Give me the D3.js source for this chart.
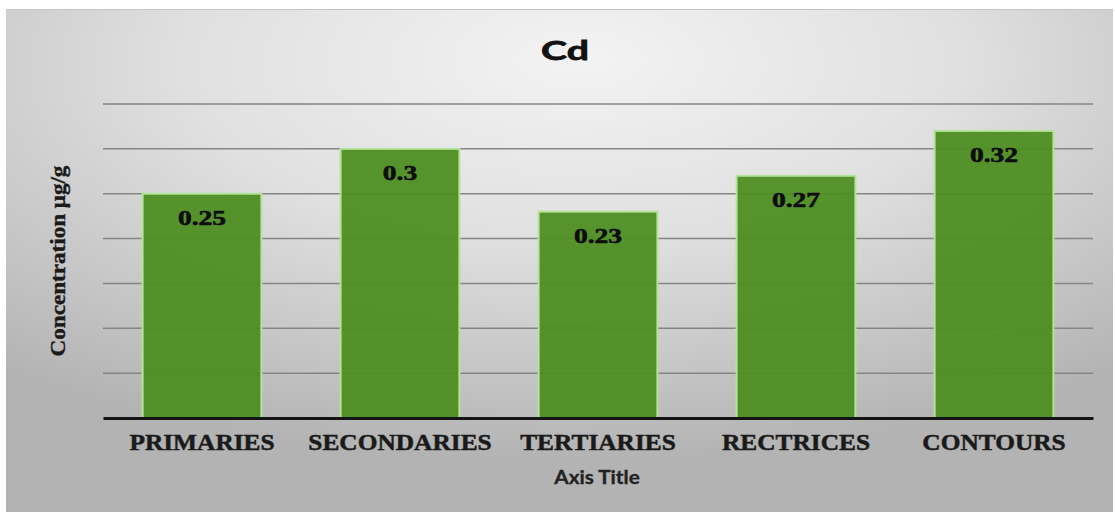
<!DOCTYPE html>
<html>
<head>
<meta charset="utf-8">
<script src="https://cdn.jsdelivr.net/npm/d3@7"></script>
<style>
  html, body { margin: 0; padding: 0; background: #ffffff; }
  svg { display: block; }
</style>
</head>
<body>
<svg id="chart" width="1115" height="512"></svg>
<script>
// Cadmium concentration by feather type
const categories = ["PRIMARIES", "SECONDARIES", "TERTIARIES", "RECTRICES", "CONTOURS"];
const values = [0.25, 0.3, 0.23, 0.27, 0.32];
const gridTicks = [0, 0.05, 0.1, 0.15, 0.2, 0.25, 0.3, 0.35];
const titleText = "Cd";
const xTitle = "Axis Title";
const yTitle = "Concentration \u03bcg/g";

const svg = d3.select("#chart");

// chart area background
const defs = svg.append("defs");
const grad = defs.append("radialGradient")
  .attr("id", "bg").attr("cx", "50%").attr("cy", "12%").attr("r", "78%")
  .attr("fx", "52%").attr("fy", "10%");
grad.append("stop").attr("offset", "0%").attr("stop-color", "#f3f3f3");
grad.append("stop").attr("offset", "45%").attr("stop-color", "#e0e0e0");
grad.append("stop").attr("offset", "100%").attr("stop-color", "#b3b3b3");

svg.append("rect").attr("x", 6).attr("y", 9).attr("width", 1107).attr("height", 503)
  .attr("fill", "url(#bg)");
svg.append("line").attr("x1", 6).attr("x2", 1113).attr("y1", 9.5).attr("y2", 9.5)
  .attr("stroke", "#c4c4c4").attr("stroke-width", 1);

const plot = { left: 103, right: 1093, top: 104, bottom: 418 };

const x = d3.scaleBand().domain(categories)
  .range([plot.left, plot.right]).paddingInner(0.4).paddingOuter(0.2);
const y = d3.scaleLinear().domain([0, 0.35]).range([plot.bottom, plot.top]);

// horizontal text stretch helper (keeps text as text)
function stretch(sel, factor) {
  sel.each(function () {
    const len = this.getComputedTextLength();
    d3.select(this).attr("textLength", len * factor).attr("lengthAdjust", "spacingAndGlyphs");
  });
}

// gridlines
svg.append("g").selectAll("line").data(gridTicks.slice(1)).join("line")
  .attr("x1", plot.left).attr("x2", plot.right)
  .attr("y1", d => y(d)).attr("y2", d => y(d))
  .attr("stroke", "#858585").attr("stroke-width", 1.5);

// bars
svg.append("g").selectAll("rect").data(values).join("rect")
  .attr("x", (d, i) => x(categories[i]))
  .attr("y", d => y(d))
  .attr("width", x.bandwidth())
  .attr("height", d => y(0) - y(d))
  .attr("fill", "#4d8d20").attr("fill-opacity", 0.94)
  .attr("stroke", "#b5e39a").attr("stroke-width", 2);

// baseline axis
const xAxis = d3.axisBottom(x).tickSize(0).tickPadding(24);
const gx = svg.append("g").attr("transform", `translate(0,${plot.bottom})`).call(xAxis);
gx.select(".domain").attr("stroke", "#141414").attr("stroke-width", 3);
gx.selectAll("text")
  .attr("font-family", "'Liberation Serif', 'Times New Roman', serif")
  .attr("font-weight", "bold").attr("font-size", 23.5).attr("fill", "#1a1a1a")
  .attr("stroke", "#1a1a1a").attr("stroke-width", 0.5)
  .attr("dy", "0.35em")
  .call(stretch, 1.08);

// value labels
svg.append("g").selectAll("text").data(values).join("text")
  .attr("x", (d, i) => x(categories[i]) + x.bandwidth() / 2)
  .attr("y", d => y(d) + 31)
  .attr("text-anchor", "middle")
  .attr("font-family", "'Liberation Serif', 'Times New Roman', serif")
  .attr("font-weight", "bold").attr("font-size", 22).attr("fill", "#0d0d0d")
  .attr("stroke", "#0d0d0d").attr("stroke-width", 0.6)
  .text(d => String(d))
  .call(stretch, 1.25);

// chart title
svg.append("text").attr("x", 565).attr("y", 60).attr("text-anchor", "middle")
  .attr("font-family", "Lato, 'Open Sans', sans-serif").attr("font-weight", "bold")
  .attr("font-size", 27).attr("fill", "#111")
  .attr("stroke", "#111").attr("stroke-width", 0.8)
  .text(titleText)
  .call(stretch, 1.45);

// x axis title
svg.append("text").attr("x", 597).attr("y", 484).attr("text-anchor", "middle")
  .attr("font-family", "Lato, 'Open Sans', sans-serif").attr("font-weight", "bold")
  .attr("font-size", 18).attr("fill", "#222")
  .attr("stroke", "#222").attr("stroke-width", 0.3)
  .text(xTitle)
  .call(stretch, 1.15);

// y axis title
svg.append("text")
  .attr("transform", `translate(65,${(plot.top + plot.bottom) / 2}) rotate(-90)`)
  .attr("text-anchor", "middle")
  .attr("font-family", "'Liberation Serif', 'Times New Roman', serif")
  .attr("font-weight", "bold").attr("font-size", 22).attr("fill", "#1a1a1a")
  .attr("stroke", "#1a1a1a").attr("stroke-width", 0.4)
  .text(yTitle)
  .call(stretch, 1.05);
</script>
</body>
</html>
